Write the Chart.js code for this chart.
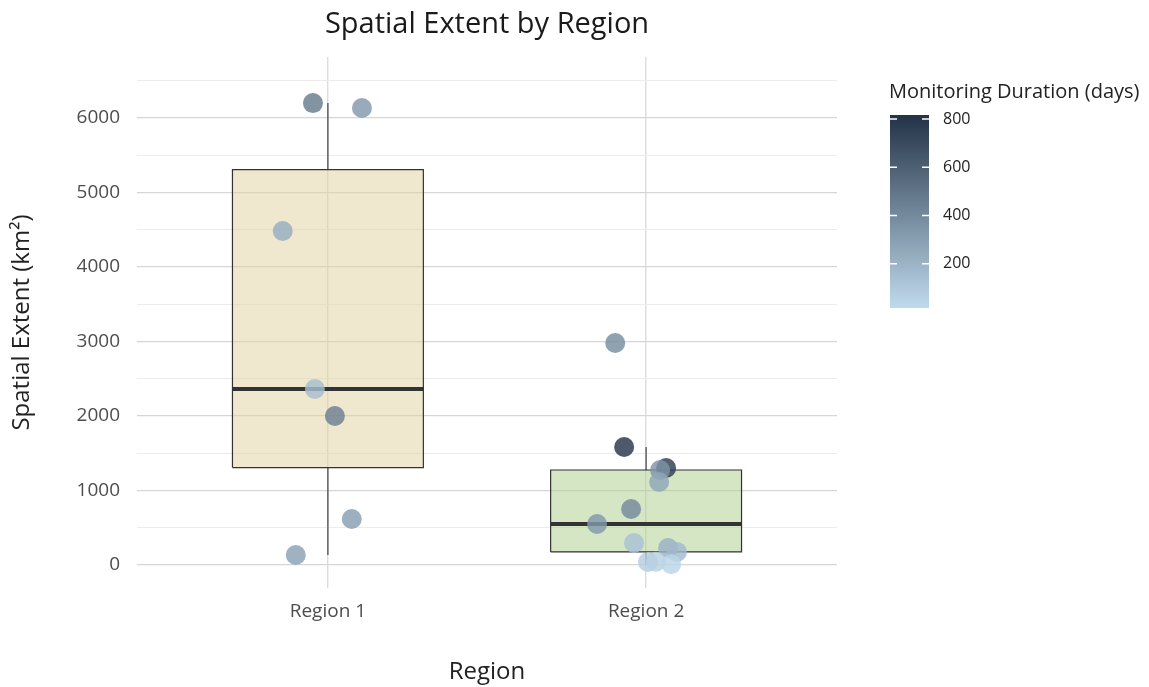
<!DOCTYPE html>
<html>
<head>
<meta charset="utf-8">
<script src="https://cdn.jsdelivr.net/npm/chart.js@4.4.1/dist/chart.umd.min.js"></script>
<style>
  html, body { margin: 0; padding: 0; background: #ffffff; }
  #wrap { width: 1149px; height: 687px; position: relative; }
</style>
</head>
<body>
<div id="wrap"><canvas id="c"></canvas></div>
<script>
// ---------- data ----------
const regionLabels = ["Region 1", "Region 2"];

// Region 1 observations
const r1Values    = [6200, 6134, 4483, 2362, 2000, 617, 134];
const r1Jitter    = [-0.047, 0.107, -0.142, -0.041, 0.022, 0.075, -0.101];
const r1Durations = [470, 330, 230, 150, 450, 300, 290];

// Region 2 observations
const r2Values    = [2980, 1584, 1302, 1275, 1114, 751, 550, 295, 228, 175, 40, 45, 10];
const r2Jitter    = [-0.097, -0.069, 0.063, 0.044, 0.041, -0.047, -0.154, -0.038, 0.069, 0.097, 0.006, 0.031, 0.079];
const r2Durations = [390, 800, 760, 350, 260, 400, 330, 130, 210, 170, 80, 60, 40];

// Box summaries [min whisker, q1, median, q3, max whisker]
const r1Box = [134, 1308, 2362, 5308, 6200];
const r2Box = [10, 175, 550, 1275, 1584];

const yTickValues = [0, 500, 1000, 1500, 2000, 2500, 3000, 3500, 4000, 4500, 5000, 5500, 6000, 6500];
const colorbarTicks = [200, 400, 600, 800];
const durationRange = [17, 817];

const chartTitle = 'Spatial Extent by Region';
const legendTitle = 'Monitoring Duration (days)';

// ---------- helpers ----------
const lowColor = [192, 218, 237];
const highColor = [35, 50, 70];
function durColor(d, a) {
  const t = Math.max(0, Math.min(1, (d - durationRange[0]) / (durationRange[1] - durationRange[0])));
  const c = lowColor.map((l, i) => Math.round(l + (highColor[i] - l) * t));
  return `rgba(${c[0]},${c[1]},${c[2]},${a})`;
}
const boxHalf = 0.3;
const boxFills = ["rgba(226,208,160,0.5)", "rgba(170,205,137,0.5)"];
const dark = "#333333";

function boxDatasets(center, box, fill) {
  const [mn, q1, med, q3, mx] = box;
  const base = { type: 'line', showLine: true, pointRadius: 0, pointHoverRadius: 0, borderColor: dark, fill: false, tension: 0 };
  return [
    Object.assign({}, base, { data: [{x: center - boxHalf, y: q3}, {x: center + boxHalf, y: q3}], fill: {value: q1}, backgroundColor: fill, borderWidth: 0, order: 20 }),
    Object.assign({}, base, { data: [{x: center - boxHalf, y: q1}, {x: center - boxHalf, y: q3}, {x: center + boxHalf, y: q3}, {x: center + boxHalf, y: q1}, {x: center - boxHalf, y: q1}], borderWidth: 1.2, order: 15 }),
    Object.assign({}, base, { data: [{x: center, y: q3}, {x: center, y: mx}], borderWidth: 1.1, order: 15 }),
    Object.assign({}, base, { data: [{x: center, y: q1}, {x: center, y: mn}], borderWidth: 1.1, order: 15 }),
    Object.assign({}, base, { data: [{x: center - boxHalf, y: med}, {x: center + boxHalf, y: med}], borderWidth: 4, order: 14 })
  ];
}

function pointData(center, vals, jit) {
  return vals.map((v, i) => ({x: center + jit[i], y: v}));
}

const pointsDs = {
  type: 'scatter',
  data: pointData(1, r1Values, r1Jitter).concat(pointData(2, r2Values, r2Jitter)),
  backgroundColor: r1Durations.concat(r2Durations).map(d => durColor(d, 0.82)),
  borderWidth: 0,
  pointRadius: 10,
  pointHoverRadius: 10,
  order: 1
};

const datasets = [pointsDs].concat(boxDatasets(1, r1Box, boxFills[0]), boxDatasets(2, r2Box, boxFills[1]));

const FONT = "'Open Sans', 'Noto Sans', 'DejaVu Sans', sans-serif";

const decorPlugin = {
  id: 'decor',
  afterDraw(chart) {
    const ctx = chart.ctx;
    const ca = chart.chartArea;
    ctx.save();
    // title centred over the panel
    ctx.fillStyle = '#1a1a1a';
    ctx.font = `29px ${FONT}`;
    ctx.textAlign = 'center';
    ctx.textBaseline = 'middle';
    ctx.fillText(chartTitle, (ca.left + ca.right) / 2, 25);

    // colour bar legend
    const x0 = 890, x1 = 929, yTop = 115, yBot = 308;
    const span = durationRange[1] - durationRange[0];
    const yOf = v => yBot - (v - durationRange[0]) / span * (yBot - yTop);
    const g = ctx.createLinearGradient(0, yBot, 0, yTop);
    for (let i = 0; i <= 20; i++) {
      const d = durationRange[0] + span * i / 20;
      g.addColorStop(i / 20, durColor(d, 1));
    }
    ctx.fillStyle = g;
    ctx.fillRect(x0, yTop, x1 - x0, yBot - yTop);
    ctx.strokeStyle = '#ffffff';
    ctx.lineWidth = 1.5;
    ctx.fillStyle = '#222222';
    ctx.font = `16px ${FONT}`;
    ctx.textAlign = 'left';
    ctx.textBaseline = 'middle';
    colorbarTicks.forEach(v => {
      const y = yOf(v);
      ctx.beginPath();
      ctx.moveTo(x0, y); ctx.lineTo(x0 + 7, y);
      ctx.moveTo(x1 - 7, y); ctx.lineTo(x1, y);
      ctx.stroke();
      ctx.fillText(String(v), 943, y);
    });
    ctx.font = `20px ${FONT}`;
    ctx.fillStyle = '#222222';
    ctx.fillText(legendTitle, 889, 92);
    ctx.restore();
  }
};

new Chart(document.getElementById('c'), {
  data: { datasets },
  options: {
    responsive: true,
    maintainAspectRatio: false,
    animation: false,
    layout: { padding: { left: 0, right: 312, top: 57, bottom: 0 } },
    plugins: {
      legend: { display: false },
      tooltip: { enabled: false },
      title: { display: false }
    },
    scales: {
      x: {
        type: 'linear',
        min: 0.4,
        max: 2.6,
        afterBuildTicks: s => { s.ticks = regionLabels.map((_, i) => ({ value: i + 1 })); },
        afterFit: s => { s.height = 99; },
        ticks: {
          callback: v => regionLabels[Math.round(v) - 1],
          color: '#4d4d4d',
          font: { family: FONT, size: 19, lineHeight: 1.2 },
          padding: 12.6,
          maxRotation: 0
        },
        grid: { color: '#dcdcdc', lineWidth: 1.4, drawTicks: false },
        border: { display: false },
        title: {
          display: true, text: 'Region', color: '#222222',
          font: { family: FONT, size: 24, lineHeight: 1.2 },
          padding: { top: 0, bottom: 0.6 }
        }
      },
      y: {
        type: 'linear',
        min: -309,
        max: 6819,
        afterBuildTicks: s => { s.ticks = yTickValues.map(v => ({ value: v })); },
        afterFit: s => { s.width = 137; },
        ticks: {
          callback: v => (v % 1000 === 0 ? String(v) : ''),
          color: '#4d4d4d',
          font: { family: FONT, size: 19, lineHeight: 1.2 },
          padding: 17
        },
        grid: {
          color: c => (c.tick && c.tick.value % 1000 === 0 ? '#d6d6d6' : '#ececec'),
          lineWidth: c => (c.tick && c.tick.value % 1000 === 0 ? 1.3 : 1),
          drawTicks: false
        },
        border: { display: false },
        title: {
          display: true, text: 'Spatial Extent (km²)', color: '#222222',
          font: { family: FONT, size: 24, lineHeight: 1.2 },
          padding: { top: 7.6, bottom: 0 }
        }
      }
    }
  },
  plugins: [decorPlugin]
});
</script>
</body>
</html>
